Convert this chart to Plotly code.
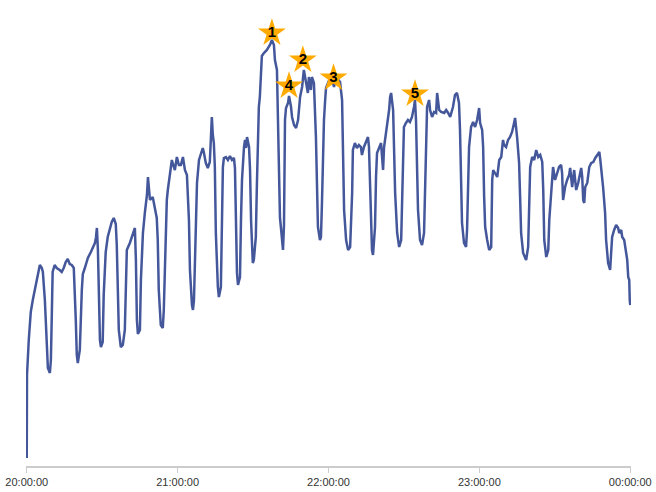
import pandas as pd
import plotly.graph_objects as go

# minutes after 20:00:00
minutes = [
    0.0, 0.1, 0.8, 1.6, 2.4, 3.2, 4.0, 4.8, 5.2, 6.0, 6.4, 7.2, 8.0, 8.4, 9.2, 9.6, 10.0, 10.3, 11.1, 11.9,
    13.1, 13.9, 14.7, 15.5, 16.3, 17.1, 17.9, 18.7, 19.5, 19.9, 20.3, 21.1, 21.9, 22.3, 23.1, 24.3, 25.5, 26.3, 27.1, 27.5,
    27.9, 28.3, 28.7, 29.1, 29.5, 30.2, 30.6, 31.4, 32.2, 33.0, 33.8, 34.6, 35.4, 35.8, 36.2, 36.6, 37.4, 38.2, 39.0, 39.4,
    39.8, 41.0, 42.2, 43.0, 43.4, 43.8, 44.2, 45.0, 45.4, 46.2, 47.0, 47.8, 48.2, 48.6, 49.0, 50.1, 50.9, 51.7, 52.1, 52.5,
    53.3, 54.1, 54.5, 54.9, 55.7, 56.1, 56.9, 57.7, 58.5, 58.9, 59.7, 60.5, 61.3, 62.1, 62.9, 63.7, 64.5, 64.9, 65.7, 66.1,
    66.5, 66.9, 67.7, 68.5, 69.3, 70.0, 70.4, 71.2, 72.0, 72.8, 73.2, 73.6, 74.0, 74.4, 74.8, 75.2, 76.0, 76.4, 77.2, 77.6,
    78.0, 78.4, 79.2, 80.0, 80.8, 81.6, 82.4, 82.8, 83.2, 83.6, 84.0, 84.8, 85.2, 85.6, 86.4, 86.8, 87.2, 87.6, 88.4, 88.8,
    89.2, 89.6, 89.9, 90.3, 91.1, 91.5, 91.9, 92.3, 92.7, 93.1, 93.5, 94.3, 95.5, 96.7, 97.5, 98.3, 98.7, 99.5, 99.9, 100.3,
    100.7, 101.1, 101.5, 101.9, 102.3, 102.7, 103.1, 103.9, 104.3, 105.1, 105.5, 106.3, 107.1, 107.9, 108.7, 109.5, 110.2, 111.0, 111.8, 112.2,
    113.0, 113.4, 114.2, 115.0, 115.4, 115.8, 116.6, 117.0, 117.4, 117.8, 118.2, 118.6, 119.0, 119.8, 120.6, 121.4, 122.2, 123.0, 123.8, 124.6,
    125.4, 125.8, 126.2, 127.0, 127.8, 128.6, 129.4, 129.7, 130.5, 131.3, 132.1, 132.9, 133.3, 134.1, 134.9, 135.7, 136.1, 136.5, 136.9, 137.3,
    137.7, 138.5, 138.9, 139.3, 140.1, 140.9, 141.3, 141.7, 142.1, 142.9, 143.7, 144.1, 144.5, 144.9, 145.7, 146.1, 146.5, 147.3, 148.1, 148.9,
    149.3, 149.6, 150.0, 150.8, 151.6, 152.4, 153.2, 154.0, 154.4, 154.8, 155.2, 155.6, 156.4, 157.2, 158.0, 158.4, 158.8, 159.2, 160.0, 160.4,
    161.2, 162.0, 162.8, 163.2, 164.0, 164.8, 166.0, 166.8, 167.6, 168.4, 169.5, 170.3, 171.1, 171.9, 172.3, 172.7, 173.1, 173.9, 174.7, 175.1,
    175.5, 175.9, 176.7, 177.5, 178.3, 179.1, 179.9, 180.3, 181.1, 181.5, 181.9, 182.3, 183.1, 183.9, 184.7, 185.1, 185.5, 186.3, 187.1, 187.9,
    188.7, 189.4, 189.8, 190.6, 191.4, 192.2, 193.0, 193.8, 194.2, 195.0, 195.4, 195.8, 196.2, 196.6, 197.4, 198.6, 199.4, 199.8, 200.2, 201.0,
    201.8, 202.6, 203.4, 204.2, 205.0, 205.4, 205.8, 206.6, 207.4, 207.8, 208.6, 209.0, 209.3, 210.1, 210.9, 211.7, 212.5, 212.9, 213.3, 214.1,
    214.9, 215.7, 216.1, 216.9, 217.7, 218.5, 219.3, 220.1, 220.5, 220.9, 221.3, 221.7, 222.1, 222.9, 223.7, 224.5, 225.3, 226.1, 226.9, 227.7,
    228.1, 228.9, 229.2, 230.0, 230.4, 231.2, 232.0, 232.4, 232.8, 233.6, 234.4, 235.2, 235.6, 236.4, 236.8, 237.6, 238.4, 238.8, 239.2, 239.6,
    239.8, 240.0,
]

values = [
    8, 91, 126, 154, 166, 176, 188, 198, 201, 198, 194, 166, 116, 98, 93, 106, 156, 194, 201, 198,
    196, 194, 198, 204, 207, 202, 201, 198, 146, 111, 103, 116, 176, 192, 198, 208, 214, 218, 223, 228,
    238, 216, 156, 126, 119, 124, 171, 214, 229, 238, 244, 248, 242, 221, 166, 136, 119, 121, 136, 196,
    216, 223, 231, 238, 206, 146, 132, 136, 186, 233, 254, 271, 289, 271, 266, 269, 259, 248, 226, 176,
    141, 138, 156, 199, 266, 276, 289, 306, 299, 296, 309, 301, 301, 309, 296, 291, 246, 196, 161, 156,
    166, 213, 283, 306, 313, 318, 314, 303, 298, 304, 326, 349, 331, 323, 299, 233, 179, 169, 179, 233,
    299, 308, 309, 306, 310, 306, 308, 298, 246, 193, 181, 189, 246, 286, 319, 326, 318, 329, 319, 296,
    246, 213, 203, 206, 229, 279, 329, 359, 369, 396, 410, 413, 416, 421, 426, 421, 406, 396, 353, 296,
    248, 238, 226, 216, 241, 346, 358, 363, 370, 359, 349, 341, 338, 346, 369, 379, 396, 383, 373, 389,
    376, 389, 383, 329, 279, 239, 226, 229, 263, 313, 346, 363, 378, 383, 388, 386, 379, 389, 386, 384,
    366, 306, 256, 226, 216, 219, 273, 316, 323, 318, 321, 319, 311, 319, 324, 329, 319, 289, 239, 216,
    211, 239, 289, 313, 318, 323, 309, 296, 319, 333, 346, 356, 369, 373, 356, 323, 273, 233, 219, 226,
    273, 323, 339, 343, 346, 344, 349, 359, 366, 346, 306, 256, 226, 221, 233, 289, 339, 359, 366, 356,
    349, 354, 353, 373, 356, 354, 353, 356, 353, 349, 359, 371, 373, 363, 336, 286, 243, 223, 219, 236,
    286, 319, 339, 344, 339, 346, 358, 343, 336, 319, 269, 239, 226, 216, 219, 286, 296, 293, 289, 306,
    309, 326, 321, 319, 326, 329, 334, 343, 348, 329, 319, 303, 269, 233, 213, 206, 219, 269, 299, 309,
    306, 316, 309, 311, 304, 276, 226, 209, 216, 246, 279, 296, 299, 286, 293, 299, 301, 293, 266, 279,
    286, 291, 298, 279, 296, 276, 283, 294, 298, 289, 266, 263, 279, 283, 299, 303, 304, 308, 311, 314,
    306, 289, 279, 253, 226, 203, 196, 213, 229, 236, 241, 238, 233, 236, 229, 226, 209, 206, 189, 186,
    166, 161,
]

# highlighted peaks
peak_labels = ["1", "2", "3", "4", "5"]
peak_minutes = [97.5, 109.8, 122.0, 104.3, 154.4]
peak_values = [433, 406, 388, 380, 372]

tick_labels = ["20:00:00", "21:00:00", "22:00:00", "23:00:00", "00:00:00"]

base = pd.Timestamp("2024-01-01 20:00:00")
times = base + pd.to_timedelta(minutes, unit="min")
peak_times = base + pd.to_timedelta(peak_minutes, unit="min")
tick_vals = [base + pd.Timedelta(hours=i) for i in range(len(tick_labels))]

fig = go.Figure()
fig.add_trace(go.Scatter(
    x=times, y=values, mode="lines",
    line=dict(color="#44579b", width=2.5),
    hoverinfo="skip", showlegend=False,
))
fig.add_trace(go.Scatter(
    x=peak_times, y=peak_values, mode="markers+text",
    marker=dict(symbol="star", size=21, color="#FFAA00", line=dict(width=0)),
    text=peak_labels, textposition="middle center",
    textfont=dict(family="Liberation Sans, Arial", size=15, color="#000000", weight="bold"),
    showlegend=False, cliponaxis=False, hoverinfo="skip",
))

fig.update_layout(
    width=656, height=492,
    margin=dict(l=26, r=25, t=20, b=26, autoexpand=False),
    paper_bgcolor="white", plot_bgcolor="white",
    font=dict(family="Liberation Sans, Arial", size=11, color="#333333"),
)
fig.update_xaxes(
    type="date", automargin=False,
    range=[base - pd.Timedelta(seconds=18), base + pd.Timedelta(hours=4, seconds=18)],
    tickvals=tick_vals, ticktext=tick_labels,
    showgrid=False, zeroline=False,
    showline=True, linecolor="#cccccc", linewidth=1.5,
    ticks="outside", ticklen=5, tickcolor="#cccccc", tickwidth=1,
    tickfont=dict(size=11, color="#333333"),
)
fig.update_yaxes(range=[0, 446], visible=False)

fig.write_html(
    "out.html",
    config={"displayModeBar": False},
    post_script="document.body.style.margin='0';document.body.style.overflow='hidden';",
)
